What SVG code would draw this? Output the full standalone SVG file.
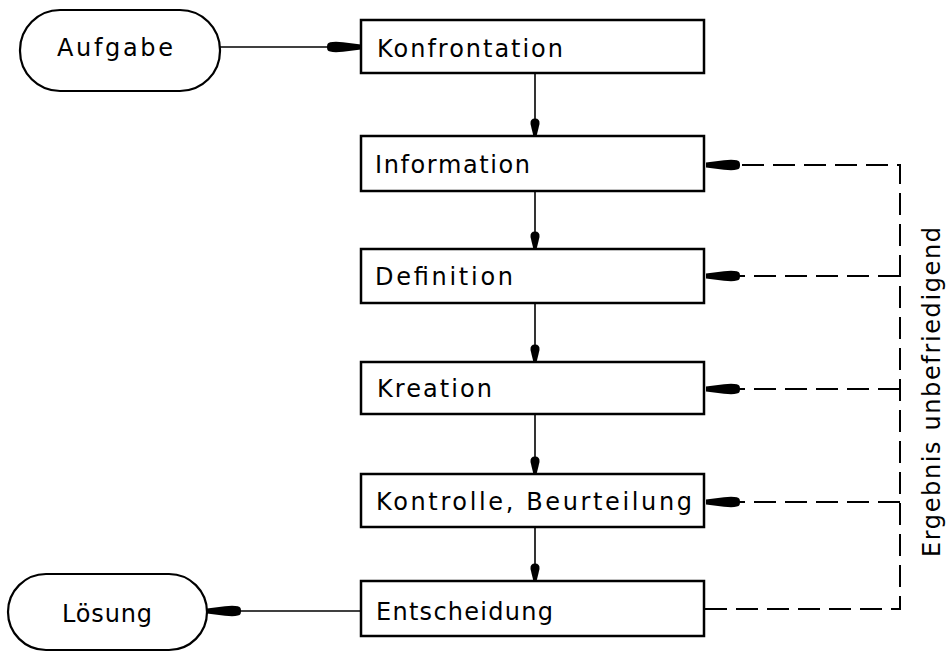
<svg xmlns="http://www.w3.org/2000/svg" width="951" height="652" viewBox="0 0 951 652">
  <style>
    .box { fill: #fff; stroke: #000; stroke-width: 2.5; }
    .pill { fill: #fff; stroke: #000; stroke-width: 2.2; }
    .lbl { font-family: "DejaVu Sans", "Liberation Sans", sans-serif; font-size: 24px; fill: #000; }
    .flow { fill: none; stroke: #000; stroke-width: 1.6; }
    .back { fill: none; stroke: #000; stroke-width: 2; stroke-dasharray: 22 9; }
  </style>
  <defs>
    <!-- long tapered arrowhead for horizontal links -->
    <marker id="headLong" viewBox="0 0 34 12" refX="34" refY="6" markerWidth="34" markerHeight="12" markerUnits="userSpaceOnUse" orient="auto">
      <path d="M34,3.6 L16,1.2 Q2,0 0.5,3 Q-0.5,6 0.5,9 Q2,12 16,10.8 L34,8.4 Z" fill="#000"/>
    </marker>
    <!-- short arrowhead for the vertical flow -->
    <marker id="headShort" viewBox="0 0 18 10" refX="18" refY="5" markerWidth="18" markerHeight="10" markerUnits="userSpaceOnUse" orient="auto">
      <path d="M18,3.4 L6,0.5 Q0.5,0 0.5,5 Q0.5,10 6,9.5 L18,6.6 Z" fill="#000"/>
    </marker>
  </defs>

  <g id="connectors">
    <line class="flow" x1="220" y1="47" x2="361" y2="47" marker-end="url(#headLong)"/>
    <line class="flow" x1="535" y1="73" x2="535" y2="136" marker-end="url(#headShort)"/>
    <line class="flow" x1="535" y1="190" x2="535" y2="249" marker-end="url(#headShort)"/>
    <line class="flow" x1="535" y1="303" x2="535" y2="362" marker-end="url(#headShort)"/>
    <line class="flow" x1="535" y1="414" x2="535" y2="474" marker-end="url(#headShort)"/>
    <line class="flow" x1="535" y1="527" x2="535" y2="581" marker-end="url(#headShort)"/>
    <line class="flow" x1="361" y1="611" x2="207" y2="611" marker-end="url(#headLong)"/>
    <!-- feedback loop: result unsatisfactory -->
    <path class="back" d="M705,609 H900 V165 H706" marker-end="url(#headLong)"/>
    <line class="back" x1="900" y1="276" x2="706" y2="276" marker-end="url(#headLong)"/>
    <line class="back" x1="900" y1="389" x2="706" y2="389" marker-end="url(#headLong)"/>
    <line class="back" x1="900" y1="502" x2="706" y2="502" marker-end="url(#headLong)"/>
  </g>

  <g id="aufgabe">
    <rect class="pill" x="20" y="10" width="200" height="81" rx="40" ry="40"/>
    <text class="lbl" x="57" y="56" textLength="116" lengthAdjust="spacing">Aufgabe</text>
  </g>
  <g id="konfrontation">
    <rect class="box" x="361" y="20" width="343" height="53"/>
    <text class="lbl" x="377" y="57" textLength="186" lengthAdjust="spacing">Konfrontation</text>
  </g>
  <g id="information">
    <rect class="box" x="361" y="136" width="343" height="55"/>
    <text class="lbl" x="375" y="173" textLength="155" lengthAdjust="spacing">Information</text>
  </g>
  <g id="definition">
    <rect class="box" x="361" y="249" width="343" height="54"/>
    <text class="lbl" x="375" y="285" textLength="138" lengthAdjust="spacing">Definition</text>
  </g>
  <g id="kreation">
    <rect class="box" x="361" y="362" width="343" height="52"/>
    <text class="lbl" x="377" y="397" textLength="115" lengthAdjust="spacing">Kreation</text>
  </g>
  <g id="kontrolle">
    <rect class="box" x="361" y="474" width="343" height="53"/>
    <text class="lbl" x="376" y="510" textLength="316" lengthAdjust="spacing">Kontrolle, Beurteilung</text>
  </g>
  <g id="entscheidung">
    <rect class="box" x="361" y="581" width="343" height="55"/>
    <text class="lbl" x="376" y="620" textLength="177" lengthAdjust="spacing">Entscheidung</text>
  </g>
  <g id="loesung">
    <rect class="pill" x="8" y="574" width="199" height="76" rx="38" ry="38"/>
    <text class="lbl" x="62" y="622" textLength="90" lengthAdjust="spacing">Lösung</text>
  </g>

  <g id="feedback-label">
    <text class="lbl" transform="translate(940,557) rotate(-90)" x="0" y="0" textLength="330" lengthAdjust="spacing">Ergebnis unbefriedigend</text>
  </g>
</svg>
